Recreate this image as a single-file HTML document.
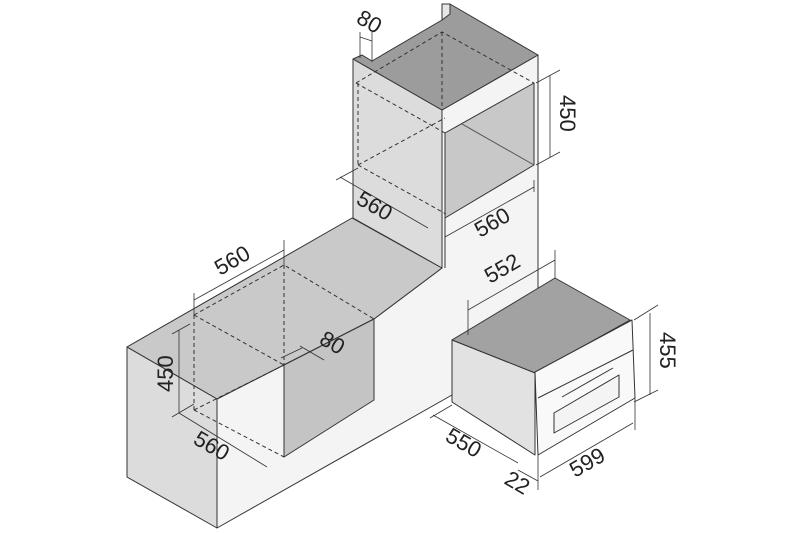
<!DOCTYPE html>
<html><head><meta charset="utf-8"><style>
html,body{margin:0;padding:0;background:#fff;width:800px;height:533px;overflow:hidden}
svg{display:block}
text{font-family:"Liberation Sans",sans-serif;font-size:22px;fill:#222}
</style></head><body>
<svg width="800" height="533" viewBox="0 0 800 533" xmlns="http://www.w3.org/2000/svg">
<g stroke="#333" stroke-width="1" stroke-linejoin="round">
<!-- light wall / right faces -->
<polygon points="217,399 374,319 442,268 442,110 538,55 538,290 452,340 452,395 217,528" fill="#f4f4f4"/>
<!-- base top -->
<polygon points="127,347 352,218 442,268 374,319 217,399" fill="#c9c9c9"/>
<!-- base left face -->
<polygon points="127,347 217,399 217,528 127,477" fill="#dcdcdc"/>
<!-- base niche dark wall -->
<polygon points="284,365 374,319 374,400 284,457" fill="#c4c4c4"/>
<!-- tall cabinet left face -->
<polygon points="353,59 442,110 442,268 353,218" fill="#dcdcdc"/>
<!-- tall top -->
<polygon points="353,59 362,55 372,61 442,20 442,4 450,4 538,55 442,110" fill="#9c9c9c"/>
<polygon points="442,4 450,4 450,14 442,20" fill="#e6e6e6"/>
<line x1="445" y1="133" x2="445" y2="268"/>
<!-- tall niche -->
<polygon points="445,133 534,83 534,165 445,218" fill="#c8c8c8"/>
<line x1="462" y1="124" x2="534" y2="165" stroke="#555"/>
<!-- oven -->
<polygon points="452,340 555,278 630,320 535,373" fill="#a2a2a2"/>
<polygon points="452,340 535,373 535,455 452,402" fill="#e2e2e2"/>
<polygon points="535,372 632,320 635,398 538,455" fill="#f9f9f9"/>
<line x1="538" y1="398" x2="633" y2="350"/>
<line x1="562" y1="397" x2="613" y2="368"/>
<polygon points="554,413 619,375 619,397 554,433" fill="#f4f4f4"/>
</g>
<!-- hidden dashed lines -->
<g stroke="#333" stroke-width="1" stroke-dasharray="4,3" fill="none">
<polyline points="356,83 442,32 534,83"/>
<line x1="442" y1="32" x2="442" y2="110"/>
<polyline points="356,83 445,133"/>
<polyline points="358,165 446,214"/>
<line x1="358" y1="83" x2="358" y2="165"/>
<polyline points="358,165 445,118"/>
<polyline points="194,315 284,265 374,319"/>
<line x1="194" y1="315" x2="194" y2="410"/>
<line x1="284" y1="265" x2="284" y2="365"/>
<polyline points="194,315 284,365"/>
<polyline points="194,410 284,457"/>
<polyline points="194,410 284,365"/>
</g>
<!-- dimension lines -->
<g stroke="#333" stroke-width="0.8" fill="none">
<line x1="360" y1="32" x2="360" y2="58"/><line x1="372" y1="32" x2="372" y2="62"/><line x1="360" y1="37" x2="372" y2="41"/>
<line x1="550" y1="75" x2="550" y2="157"/><line x1="536" y1="83" x2="560" y2="70"/><line x1="536" y1="165" x2="560" y2="152"/>
<line x1="340" y1="177" x2="428" y2="228"/><line x1="336" y1="180" x2="358" y2="168"/>
<line x1="445" y1="237" x2="534" y2="187"/><line x1="534" y1="180" x2="534" y2="192"/>
<line x1="194" y1="300" x2="284" y2="250"/><line x1="194" y1="293" x2="194" y2="315"/><line x1="284" y1="240" x2="284" y2="265"/>
<line x1="179" y1="330" x2="179" y2="413"/><line x1="172" y1="334" x2="190" y2="324"/>
<line x1="179" y1="413" x2="267" y2="467"/><line x1="172" y1="417" x2="194" y2="404"/>
<line x1="281" y1="358" x2="302" y2="348"/><line x1="300" y1="346" x2="324" y2="360"/>
<line x1="468" y1="310" x2="555" y2="260"/><line x1="468" y1="300" x2="468" y2="335"/><line x1="555" y1="250" x2="555" y2="278"/>
<line x1="650" y1="313" x2="650" y2="395"/><line x1="634" y1="320" x2="658" y2="305"/><line x1="634" y1="402" x2="658" y2="390"/>
<line x1="433" y1="415" x2="518" y2="463"/><line x1="430" y1="418" x2="452" y2="405"/>
<line x1="540" y1="477" x2="633" y2="423"/><line x1="635" y1="398" x2="635" y2="430"/>
<line x1="518" y1="470" x2="538" y2="481"/><line x1="538" y1="455" x2="538" y2="490"/>
</g>
<text transform="translate(355,22) rotate(30)">80</text>
<text transform="translate(560,95) rotate(90)">450</text>
<text transform="translate(355,203) rotate(30)">560</text>
<text transform="translate(480,238) rotate(-30)">560</text>
<text transform="translate(220,276) rotate(-30)">560</text>
<text transform="translate(173,392) rotate(-90)">450</text>
<text transform="translate(318,343) rotate(30)">80</text>
<text transform="translate(192,443) rotate(30)">560</text>
<text transform="translate(490,284) rotate(-30)">552</text>
<text transform="translate(660,332) rotate(90)">455</text>
<text transform="translate(444,440) rotate(30)">550</text>
<text transform="translate(575,478) rotate(-30)">599</text>
<text transform="translate(503,483) rotate(30)">22</text>
</svg>
</body></html>
